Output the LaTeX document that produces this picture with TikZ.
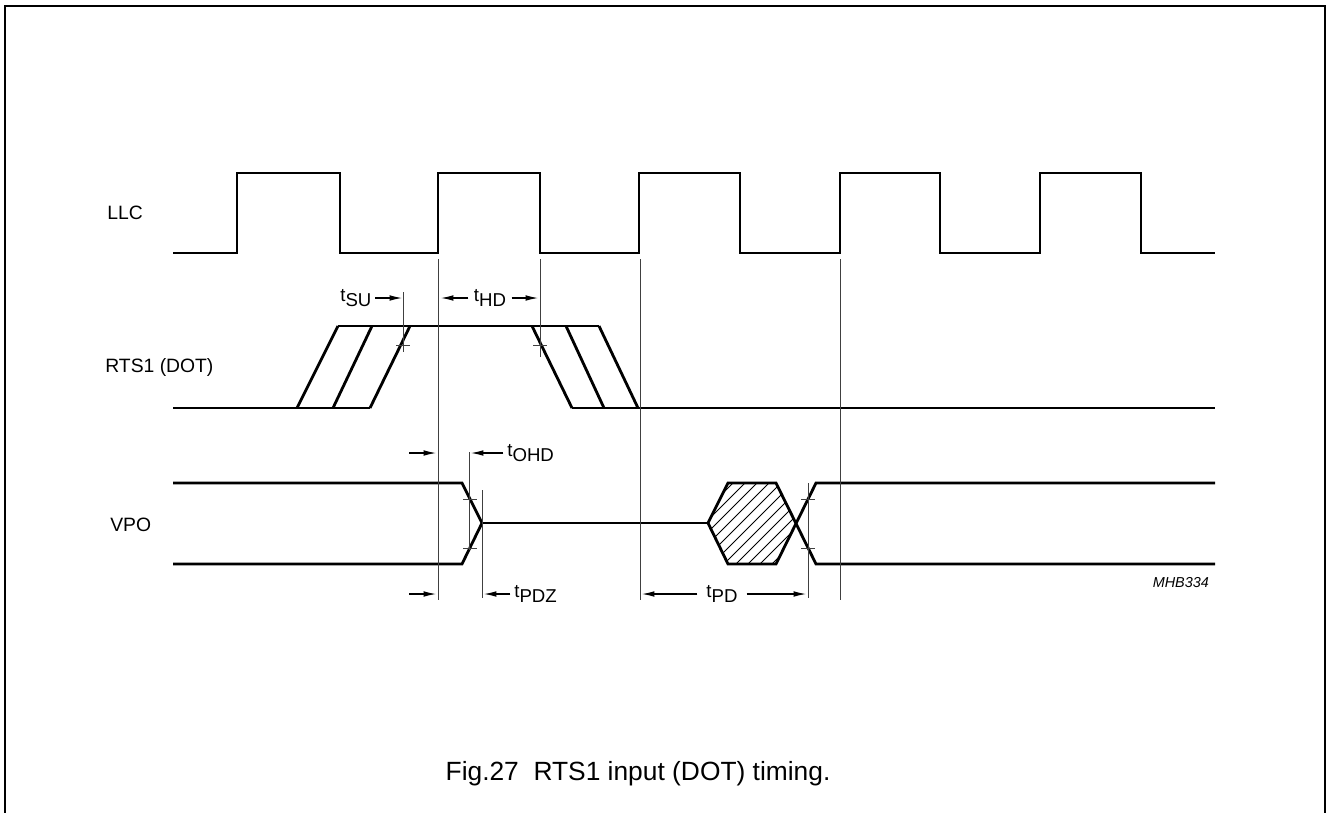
\documentclass[tikz,border=0pt]{standalone}
\usepackage{fontspec}
\setmainfont{Liberation Sans}
\usetikzlibrary{arrows.meta,positioning}

\newcommand{\tsub}[2]{#1\raisebox{-0.45ex}{#2}}

\begin{document}
\begin{tikzpicture}[
	x=0.02cm, y=-0.02cm,
	sig/.style={
		line width=1.6pt,
		line join=miter
	},
	guide/.style={
		line width=0.55pt,
		black!75
	},
	dim/.style={
		line width=0.6pt,
		-{Latex[length=7pt,width=3.2pt]}
	},
	lbl/.style={
		font=\fontsize{10.6}{12}\selectfont,
		inner sep=0pt
	}
	]
	\useasboundingbox (0,0) rectangle (1327,812);
	\clip (0,0) rectangle (1327,812);
	% frame
	\draw[line width=1.2pt] (5,830) -- (5,6) -- (1325,6) -- (1325,830);

	% signal names
	\node[lbl, anchor=west, font=\fontsize{11}{13}\selectfont] (llc) at (107,213) {LLC};
	\node[lbl, anchor=west, font=\fontsize{11}{13}\selectfont] (rts) at (105,367) {RTS1 (DOT)};
	\node[lbl, anchor=west, font=\fontsize{11}{13}\selectfont] (vpo) at (110,525) {VPO};

	% LLC clock
	\draw[sig] (173,253)
		\foreach \r/\f in {237/340,438/540,639/740,840/940,1040/1141}
		{ -- (\r,253) -- (\r,173) -- (\f,173) -- (\f,253) }
		-- (1215,253);

	% RTS1 input
	\draw[sig] (173,408) -- (370,408);
	\draw[sig] (338,326) -- (599,326);
	\draw[sig] (572,408) -- (1215,408);
	\foreach \a/\b in {297/338,333/372,370/410}
		\draw[sig] (\a,408) -- (\b,326);
	\foreach \a/\b in {532/572,566/604,599/638}
		\draw[sig] (\a,326) -- (\b,408);

	% VPO output
	\draw[sig] (173,483) -- (462,483) -- (482,523) -- (462,564) -- (173,564);
	\draw[sig] (482,523) -- (708,523);
	\begin{scope}
		\clip (708,523) -- (728,483) -- (776,483) -- (796,523) -- (776,564) -- (728,564) -- cycle;
		\foreach \k in {612,624,...,816}
			\draw[line width=0.5pt] (\k,580) -- ++(100,-100);
	\end{scope}
	\draw[sig] (708,523) -- (728,483) -- (776,483) -- (816,564) -- (1215,564);
	\draw[sig] (708,523) -- (728,564) -- (776,564) -- (816,483) -- (1215,483);

	% reference lines
	\foreach \x in {438,640,840}
		\draw[guide] (\x,259) -- (\x,600);
	\draw[guide] (540,259) -- (540,357);
	\draw[guide] (403,292) -- (403,352);
	\draw[guide] (469,452) -- (469,550);
	\draw[guide] (482,490) -- (482,598);
	\draw[guide] (808,483) -- (808,598);
	\foreach \x/\y in {403/345,540/345,470/499,470/548,808/499,808/548}
		\draw[guide] (\x-7,\y) -- (\x+7,\y);

	% timing labels
	\node[lbl, anchor=west] (su) at (340,298) {\tsub{t}{SU}};
	\node[lbl] (hd) at (490,298) {\tsub{t}{HD}};
	\node[lbl, anchor=west] (ohd) at (507,453) {\tsub{t}{OHD}};
	\node[lbl, anchor=west] (pdz) at (514,594) {\tsub{t}{PDZ}};
	\node[lbl] (pd) at (722,594) {\tsub{t}{PD}};

	\draw[dim] (su.east) ++(2pt,0) -- (402,298);
	\draw[dim] (hd.west) ++(-3pt,0) -- (441,298);
	\draw[dim] (hd.east) ++(3pt,0) -- (538,298);
	\draw[dim] (409,453) -- (436,453);
	\draw[dim] (ohd.west) ++(-2pt,0) -- (471,453);
	\draw[dim] (409,594) -- (436,594);
	\draw[dim] (pdz.west) ++(-2pt,0) -- (484,594);
	\draw[dim] (pd.west) ++(-5pt,0) -- (642,594);
	\draw[dim] (pd.east) ++(5pt,0) -- (806,594);

	\node[font=\fontsize{8.2}{10}\selectfont\itshape, anchor=east] (code) at (1215,583) {MHB334};
	\node[font=\fontsize{15}{18}\selectfont] (cap) at (638,774) {Fig.27\ \ RTS1 input (DOT) timing.};
\end{tikzpicture}
\end{document}
